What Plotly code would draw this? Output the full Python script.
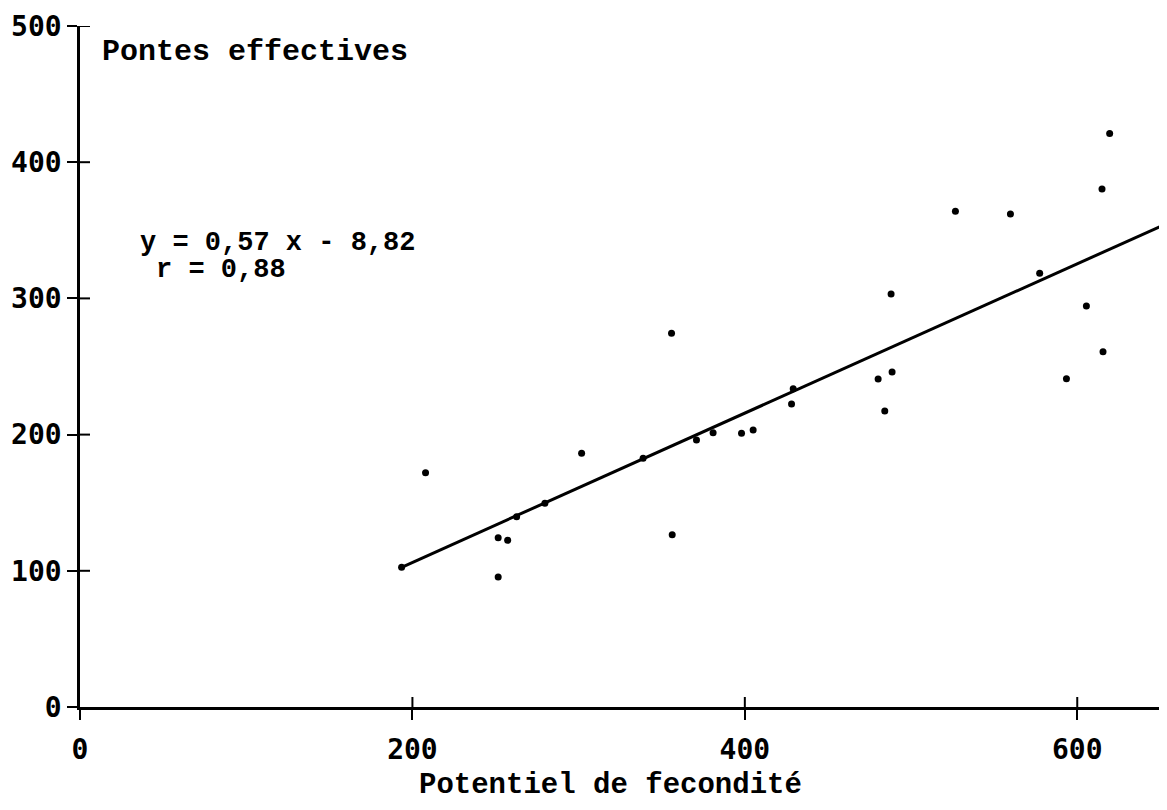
"""Pontes effectives vs potentiel de fecondite, scatter with fitted line."""

import plotly.graph_objects as go

# observed points (potentiel, pontes)
potentiel = [
    193.5, 207.9, 251.6, 251.6, 257.3, 262.7, 279.7, 301.8, 338.8, 355.9,
    356.3, 370.9, 380.9, 398.0, 405.0, 428.1, 429.1, 480.2, 484.2, 488.0,
    488.6, 526.7, 559.8, 577.4, 593.5, 605.5, 614.9, 615.5, 619.5,
]
pontes = [
    102.6, 172.0, 124.3, 95.4, 122.4, 139.7, 149.6, 186.3, 182.6, 274.4,
    126.5, 196.0, 201.4, 201.0, 203.4, 222.5, 233.7, 240.8, 217.3, 303.2,
    246.0, 364.0, 362.0, 318.4, 241.0, 294.4, 380.3, 260.9, 421.0,
]

# regression line as drawn (end points)
fit_x = [193.5, 654]
fit_y = [102.6, 355]

x_ticks = [0, 200, 400, 600]
y_ticks = [0, 100, 200, 300, 400, 500]
x_range = [0, 654]
y_range = [0, 500]

tick_font = dict(family="DejaVu Sans Mono", size=28, color="black", weight="bold")
text_font = dict(family="Liberation Mono", color="black", weight="bold")

fig = go.Figure()
fig.add_trace(
    go.Scatter(
        x=potentiel,
        y=pontes,
        mode="markers",
        marker=dict(size=7, color="black", symbol="circle"),
        showlegend=False,
        hoverinfo="x+y",
    )
)
fig.add_trace(
    go.Scatter(
        x=fit_x,
        y=fit_y,
        mode="lines",
        line=dict(color="black", width=3),
        showlegend=False,
        hoverinfo="skip",
    )
)

# inner half of the crossing tick marks (outer half comes from the axes)
for t in x_ticks[1:]:
    fig.add_shape(
        type="line", xref="x", yref="y", layer="above",
        x0=t, x1=t, ysizemode="pixel", yanchor=0, y0=0, y1=10,
        line=dict(color="black", width=2),
    )
for t in y_ticks[1:]:
    fig.add_shape(
        type="line", xref="x", yref="y", layer="above",
        y0=t, y1=t, xsizemode="pixel", xanchor=0, x0=0, x1=10,
        line=dict(color="black", width=2),
    )

axis_common = dict(
    showgrid=False,
    zeroline=False,
    showline=True,
    linewidth=2.5,
    linecolor="black",
    ticks="outside",
    tickcolor="black",
    tickwidth=2,
    ticklen=10,
    tickfont=tick_font,
    fixedrange=True,
)

# page body has an 8px margin, so the figure is sized to fit inside the window
fig.update_layout(
    width=1159,
    height=794,
    margin=dict(l=72, r=0, t=18, b=95),
    paper_bgcolor="white",
    plot_bgcolor="white",
    xaxis=dict(range=x_range, tickvals=x_ticks, ticklabelstandoff=6, **axis_common),
    yaxis=dict(range=y_range, tickvals=y_ticks, **axis_common),
    annotations=[
        dict(
            text="Pontes effectives",
            xref="paper", yref="paper", x=0.018, y=0.962,
            xanchor="left", yanchor="middle", showarrow=False,
            font=dict(size=30, **text_font),
        ),
        dict(
            text="y = 0,57 x - 8,82",
            xref="paper", yref="paper", x=0.053, y=0.681,
            xanchor="left", yanchor="middle", showarrow=False,
            font=dict(size=27, **text_font),
        ),
        dict(
            text="r = 0,88",
            xref="paper", yref="paper", x=0.068, y=0.642,
            xanchor="left", yanchor="middle", showarrow=False,
            font=dict(size=27, **text_font),
        ),
        dict(
            text="Potentiel de fecondité",
            xref="paper", yref="paper", x=0.4885, y=-0.116,
            xanchor="center", yanchor="middle", showarrow=False,
            font=dict(size=29, **text_font),
        ),
    ],
)

fig.write_html("out.html")
